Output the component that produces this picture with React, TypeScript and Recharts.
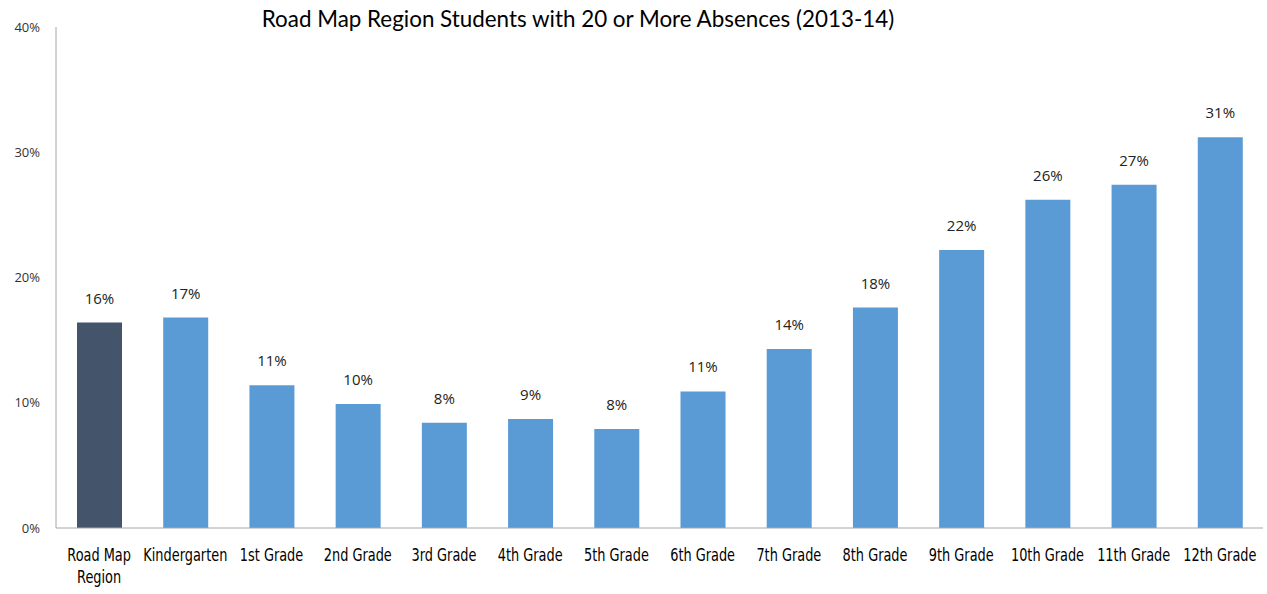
import { BarChart, Bar, XAxis, YAxis, Cell, LabelList } from 'recharts';

const categories = [
  'Road Map\nRegion',
  'Kindergarten',
  '1st Grade',
  '2nd Grade',
  '3rd Grade',
  '4th Grade',
  '5th Grade',
  '6th Grade',
  '7th Grade',
  '8th Grade',
  '9th Grade',
  '10th Grade',
  '11th Grade',
  '12th Grade',
];
const absences = [16.4, 16.8, 11.4, 9.9, 8.4, 8.7, 7.9, 10.9, 14.3, 17.6, 22.2, 26.2, 27.4, 31.2];
const yTicks = [0, 10, 20, 30, 40];

const data = categories.map((name, i) => ({ name, value: absences[i] }));

// no narrow font installed, so squeeze the tick text horizontally
const XTick = (props: any) => {
  const { x, y, payload } = props;
  const lines = String(payload.value).split('\n');
  return (
    <g transform={`translate(${x},${y + 25}) scale(0.76,1)`}>
      <text
        x={0}
        y={0}
        textAnchor="middle"
        fill="#000"
        style={{ fontFamily: '"DejaVu Sans", sans-serif', fontSize: 17 }}
      >
        {lines.map((l, i) => (
          <tspan key={i} x={0} dy={i === 0 ? 0 : 22}>
            {l}
          </tspan>
        ))}
      </text>
    </g>
  );
};

export default function App() {
  return (
    <div style={{ position: 'absolute', left: 0, top: 0, width: 1267, height: 594, background: '#fff' }}>
      <div
        style={{
          position: 'absolute',
          left: 238,
          top: 5,
          width: 680,
          textAlign: 'center',
          fontFamily: 'Lato, sans-serif',
          fontSize: 22.4,
          color: '#000',
          whiteSpace: 'nowrap',
        }}
      >
        Road Map Region Students with 20 or More Absences (2013-14)
      </div>
      <BarChart
        width={1267}
        height={594}
        data={data}
        margin={{ top: 27, right: 4, bottom: 0, left: 0 }}
        barCategoryGap={0}
      >
        <XAxis
          dataKey="name"
          interval={0}
          tickLine={false}
          axisLine={{ stroke: '#a6a6a6' }}
          height={66}
          tick={<XTick />}
        />
        <YAxis
          width={56}
          domain={[0, 40]}
          ticks={yTicks}
          tickLine={false}
          axisLine={{ stroke: '#a6a6a6' }}
          tickFormatter={(v) => `${v}%`}
          tick={{ fill: '#333', fontSize: 13, fontFamily: '"Open Sans", sans-serif', dx: -8 }}
        />
        <Bar dataKey="value" barSize={45} isAnimationActive={false}>
          {data.map((d, i) => (
            <Cell key={d.name} fill={i === 0 ? '#44546a' : '#5b9bd5'} />
          ))}
          <LabelList
            dataKey="value"
            position="top"
            offset={19}
            formatter={(v: any) => `${Math.round(v)}%`}
            style={{ fill: '#222', fontSize: 15, fontFamily: '"Open Sans", sans-serif' }}
          />
        </Bar>
      </BarChart>
    </div>
  );
}
